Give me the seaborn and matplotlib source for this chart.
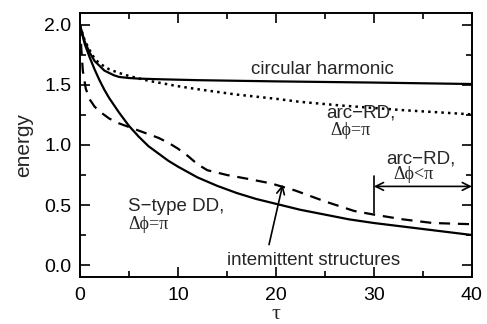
import numpy as np
import pandas as pd
import seaborn as sns
import matplotlib
matplotlib.use("Agg")
import matplotlib.pyplot as plt

# --- data ---
circ_t = [0, 0.5, 1, 1.5, 2, 2.5, 3, 3.5, 4, 5, 6, 8, 12, 20, 30, 40]
circ_e = [2.0, 1.86, 1.77, 1.70, 1.66, 1.62, 1.60, 1.58, 1.567, 1.558, 1.553, 1.548, 1.54, 1.53, 1.52, 1.508]

arc_t = [0, 0.5, 1, 1.5, 2, 3, 4, 5, 6, 7, 8, 10, 12, 16, 20, 22.4, 26.5, 33, 40]
arc_e = [2.0, 1.87, 1.79, 1.72, 1.68, 1.63, 1.60, 1.575, 1.555, 1.535, 1.52, 1.49, 1.465, 1.42, 1.385, 1.36, 1.33, 1.29, 1.255]

stype_t = [0, 0.5, 1, 1.5, 2, 2.5, 3, 4, 5, 6, 7, 8, 9, 10, 12, 14, 16, 18, 20, 22.5, 25, 27.5, 30, 35, 40]
stype_e = [2.0, 1.84, 1.73, 1.63, 1.54, 1.46, 1.39, 1.27, 1.16, 1.07, 0.99, 0.93, 0.87, 0.82, 0.73, 0.66, 0.60, 0.55, 0.51, 0.46, 0.42, 0.38, 0.35, 0.30, 0.25]

dash_t = [0, 0.15, 0.3, 0.6, 1, 1.5, 2, 3, 4, 5, 6, 7, 8, 9, 10, 11, 12, 13, 14, 15, 17, 19.5, 22, 25, 28, 30, 33, 36, 40]
dash_e = [2.0, 1.8, 1.62, 1.47, 1.38, 1.32, 1.28, 1.22, 1.18, 1.15, 1.12, 1.09, 1.06, 1.02, 0.97, 0.91, 0.84, 0.79, 0.77, 0.75, 0.72, 0.68, 0.62, 0.53, 0.45, 0.42, 0.38, 0.35, 0.34]

xticks = [0, 10, 20, 30, 40]
yticks = [0.0, 0.5, 1.0, 1.5, 2.0]

sns.set_theme(style="ticks")
plt.rcParams["font.family"] = ["Liberation Sans", "DejaVu Sans"]

SERIF = ["Liberation Serif", "DejaVu Serif"]

fig = plt.figure(figsize=(4.87, 3.24), dpi=100)
ax = fig.add_axes([0.164, 0.145, 0.805, 0.815])

series = [
    ("circ", circ_t, circ_e, "-", 1.6),
    ("arc", arc_t, arc_e, ":", 1.8),
    ("stype", stype_t, stype_e, "-", 1.6),
    ("dash", dash_t, dash_e, (0, (5, 3.5)), 1.6),
]
for name, t, e, ls, lw in series:
    df = pd.DataFrame({"tau": t, "energy": e})
    sns.lineplot(data=df, x="tau", y="energy", ax=ax, color="black",
                 linestyle=ls, linewidth=lw, estimator=None, sort=False)

ax.set_xlim(0, 40)
ax.set_ylim(-0.1, 2.1)
ax.set_xticks(xticks)
ax.set_xticklabels([str(v) for v in xticks])
ax.set_yticks(yticks)
ax.set_yticklabels([f"{v:.1f}" for v in yticks])
ax.set_xticks([5, 15, 25, 35], minor=True)
ax.set_yticks([0.25, 0.75, 1.25, 1.75], minor=True)
ax.tick_params(which="both", direction="in", top=True, right=True, colors="black",
               labelsize=14, width=1.2)
ax.tick_params(which="major", length=7)
ax.tick_params(which="minor", length=4)
ax.tick_params(axis="x", pad=7)
ax.tick_params(axis="y", pad=6)
for s in ax.spines.values():
    s.set_linewidth(1.4)
    s.set_color("black")

ax.set_xlabel("τ", fontsize=16, family=SERIF, labelpad=1)
ax.set_ylabel("energy", fontsize=15, labelpad=8)

FS = 13.5
FS2 = 13
ax.text(24.7, 1.63, "circular harmonic", fontsize=FS, ha="center", va="center")
ax.text(25.1, 1.265, "arc\u2212RD,", fontsize=FS, ha="left", va="center")
ax.text(25.6, 1.12, "Δϕ=π", fontsize=FS2, family=SERIF, ha="left", va="center")
ax.text(31.3, 0.885, "arc\u2212RD,", fontsize=FS, ha="left", va="center")
ax.text(32.0, 0.755, "Δϕ<π", fontsize=FS2, family=SERIF, ha="left", va="center")
ax.text(4.9, 0.49, "S\u2212type DD,", fontsize=FS, ha="left", va="center")
ax.text(5.0, 0.34, "Δϕ=π", fontsize=FS2, family=SERIF, ha="left", va="center")
ax.text(15.0, 0.04, "intemittent structures", fontsize=FS, ha="left", va="center")

ax.annotate("", xy=(40, 0.655), xytext=(30, 0.655),
            arrowprops=dict(arrowstyle="<->", color="black", lw=1.2, mutation_scale=14,
                            shrinkA=0, shrinkB=0))
ax.plot([30, 30], [0.74, 0.43], color="black", lw=1.2)
ax.annotate("", xy=(20.7, 0.67), xytext=(19.3, 0.17),
            arrowprops=dict(arrowstyle="->", color="black", lw=1.2, mutation_scale=14,
                            shrinkA=0, shrinkB=0))

fig.savefig("out.png", dpi=100)
